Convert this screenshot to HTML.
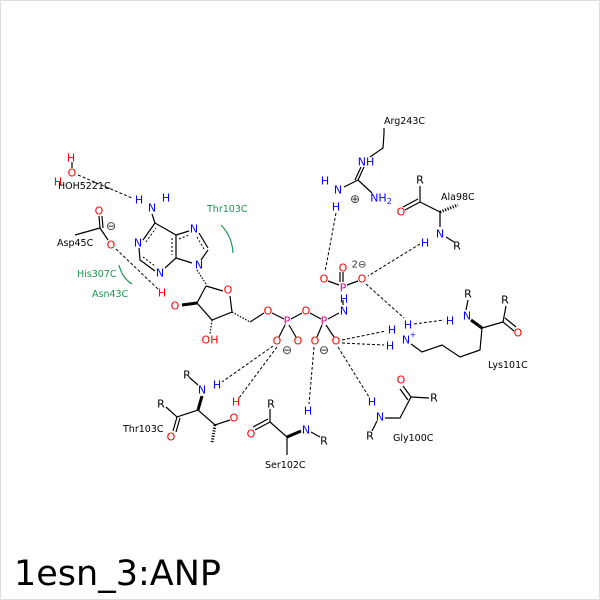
<!DOCTYPE html>
<html><head><meta charset="utf-8"><style>
body{margin:0;background:#fff}
svg{display:block}
text{font-family:"DejaVu Sans","Liberation Sans",sans-serif}
.a{font-size:11px;text-anchor:middle;dominant-baseline:central}
.l{font-size:9.5px}
.b{fill:#000}.r{fill:#f00}.n{fill:#00f}.p{fill:#e0008a}.g{fill:#1a9850}
</style></head><body>
<svg width="600" height="600" viewBox="0 0 600 600">
<rect x="0.5" y="0.5" width="599" height="599" fill="#fff" stroke="#ddd"/>
<g stroke="#000" stroke-width="1.2" fill="none">
<line x1="72" y1="162" x2="72" y2="168"/>
<line x1="152" y1="214" x2="155" y2="223"/>
<polyline points="143,240 155,223 176,235 176,258 165,268"/>
<polyline points="155,271 140,260 139,248"/>
<line x1="176" y1="235" x2="189" y2="231"/>
<line x1="199" y1="233" x2="208" y2="248"/>
<line x1="208" y1="250" x2="201" y2="260"/>
<line x1="192" y1="263" x2="176" y2="258"/>
</g>
<g stroke="#000" stroke-width="1" stroke-dasharray="2,2" fill="none">
<line x1="146" y1="242" x2="156" y2="228"/>
<line x1="172" y1="238" x2="172" y2="255"/>
<line x1="143" y1="257" x2="155" y2="266"/>
<line x1="179" y1="239" x2="189" y2="235"/>
<line x1="197" y1="237" x2="204" y2="249"/>
</g>
<g stroke="#000" stroke-width="1.2" fill="none">
<line x1="197" y1="270" x2="206" y2="284" stroke-dasharray="1.5,1.5"/>
<polyline points="206,286 223,291"/>
<polyline points="230,296 232,312 212,320 197,303 206,286"/>
<line x1="197" y1="303" x2="182" y2="305" stroke-width="3"/>
<line x1="212" y1="320" x2="210" y2="334" stroke-dasharray="1.5,1.5"/>
<line x1="232" y1="312" x2="250" y2="322" stroke-dasharray="1.5,1.5"/>
<line x1="250" y1="322" x2="264" y2="313"/>
<line x1="272" y1="313" x2="284" y2="319"/>
<line x1="291" y1="319" x2="302" y2="313"/>
<line x1="310" y1="313" x2="321" y2="319"/>
<line x1="328" y1="319" x2="339" y2="313"/>
<line x1="343" y1="305" x2="343" y2="300"/>
<line x1="343" y1="282" x2="343" y2="272"/><line x1="340" y1="282" x2="340" y2="272"/>
<line x1="339" y1="285" x2="328" y2="281"/><line x1="347" y1="285" x2="358" y2="281"/>
<line x1="285" y1="325" x2="279" y2="337"/><line x1="289" y1="325" x2="296" y2="337"/>
<line x1="322" y1="325" x2="317" y2="337"/><line x1="326" y1="325" x2="334" y2="337"/>
<line x1="75" y1="235" x2="100" y2="228"/>
<line x1="99" y1="216" x2="100" y2="228"/><line x1="102" y1="216" x2="103" y2="228"/>
<line x1="100" y1="228" x2="108" y2="240"/>
<polyline points="384,128 384,133 383,148 370,157"/>
<line x1="364" y1="167" x2="358" y2="180"/><line x1="361" y1="167" x2="355" y2="180"/>
<line x1="358" y1="180" x2="344" y2="187"/>
<line x1="358" y1="180" x2="372" y2="193"/>
<line x1="420" y1="186" x2="420" y2="202"/>
<line x1="420" y1="202" x2="405" y2="210"/><line x1="418" y1="199" x2="403" y2="207"/>
<line x1="420" y1="202" x2="440" y2="212"/>
<line x1="440" y1="212" x2="458" y2="205" stroke-dasharray="1.2,1.5" stroke-width="3"/>
<line x1="440" y1="212" x2="440" y2="227"/>
<line x1="446" y1="237" x2="454" y2="242"/>
<polyline points="411,344 422,352 442,345 460,357 480,350 482,328"/>
<line x1="482" y1="328" x2="471" y2="320" stroke-width="3"/>
<line x1="466" y1="310" x2="468" y2="300"/>
<line x1="482" y1="328" x2="503" y2="322"/>
<line x1="503" y1="322" x2="506" y2="306"/>
<line x1="503" y1="322" x2="514" y2="331"/><line x1="505" y1="318" x2="516" y2="327"/>
<line x1="190" y1="378" x2="198" y2="385"/>
<line x1="202" y1="396" x2="198" y2="410" stroke-width="3"/>
<polyline points="166,407 177,417 198,410 215,425 230,420"/>
<line x1="177" y1="417" x2="173" y2="431"/><line x1="180" y1="418" x2="176" y2="432"/>
<line x1="215" y1="425" x2="212" y2="443" stroke-dasharray="1.2,1.5" stroke-width="3"/>
<line x1="270" y1="409" x2="270" y2="422"/>
<line x1="270" y1="422" x2="255" y2="430"/><line x1="268" y1="419" x2="253" y2="427"/>
<polyline points="270,422 287,437 287,455"/>
<line x1="287" y1="437" x2="301" y2="431" stroke-width="3"/>
<line x1="311" y1="432" x2="320" y2="437"/>
<line x1="403" y1="386" x2="411" y2="397"/><line x1="400" y1="389" x2="408" y2="400"/>
<line x1="411" y1="397" x2="429" y2="398"/>
<polyline points="411,397 400,418 385,418"/>
<line x1="377" y1="421" x2="372" y2="431"/>
</g>
<g stroke="#000" stroke-width="1" stroke-dasharray="3,2" fill="none">
<line x1="78" y1="175" x2="132" y2="198"/>
<line x1="116" y1="249" x2="158" y2="289"/>
<line x1="336" y1="213" x2="325" y2="272"/>
<line x1="420" y1="244" x2="368" y2="276"/>
<line x1="366" y1="284" x2="404" y2="318"/>
<line x1="414" y1="324" x2="444" y2="320"/>
<line x1="342" y1="340" x2="386" y2="331"/>
<line x1="342" y1="343" x2="384" y2="345"/>
<line x1="273" y1="346" x2="222" y2="382"/>
<line x1="277" y1="347" x2="239" y2="398"/>
<line x1="314" y1="347" x2="309" y2="404"/>
<line x1="338" y1="347" x2="369" y2="397"/>
</g>
<g stroke="#1a9850" stroke-width="1.2" fill="none">
<path d="M119,265 Q122,278 132,284"/>
<path d="M221,225 Q232,236 233,253"/>
</g>
<g class="a">
<text x="71" y="158" class="r">H</text><text x="72" y="173" class="r">O</text><text x="58" y="182" class="r">H</text>
<text x="152" y="208" class="n">N</text><text x="139" y="200" class="n">H</text><text x="166" y="198" class="n">H</text>
<text x="138" y="243" class="n">N</text><text x="160" y="273" class="n">N</text><text x="194" y="229" class="n">N</text><text x="199" y="265" class="n">N</text>
<text x="228" y="290" class="r">O</text><text x="175" y="306" class="r">O</text><text x="162" y="293" class="r">H</text><text x="210" y="340" class="r">OH</text>
<text x="268" y="311" class="r">O</text><text x="306" y="311" class="r">O</text>
<text x="287" y="321" class="p">P</text><text x="324" y="321" class="p">P</text><text x="343" y="288" class="p">P</text>
<text x="344" y="311" class="n">N</text><text x="344" y="299" class="n">H</text>
<text x="324" y="279" class="r">O</text><text x="343" y="268" class="r">O</text><text x="362" y="279" class="r">O</text>
<text x="277" y="341" class="r">O</text><text x="298" y="341" class="r">O</text><text x="315" y="341" class="r">O</text><text x="336" y="341" class="r">O</text>
<text x="99" y="211" class="r">O</text><text x="111" y="245" class="r">O</text>
<text x="366" y="162" class="n">NH</text><text x="338" y="190" class="n">N</text><text x="325" y="181" class="n">H</text><text x="336" y="207" class="n">H</text>
<text x="381" y="198" class="n">NH<tspan font-size="8" dy="3">2</tspan></text>
<text x="420" y="180">R</text><text x="401" y="212" class="r">O</text><text x="440" y="234" class="n">N</text><text x="425" y="243" class="n">H</text><text x="457" y="246">R</text>
<text x="406" y="340" class="n">N</text><text x="413" y="335" class="n" font-size="8">+</text><text x="408" y="325" class="n">H</text><text x="392" y="330" class="n">H</text><text x="390" y="346" class="n">H</text>
<text x="467" y="316" class="n">N</text><text x="450" y="321" class="n">H</text><text x="468" y="294">R</text><text x="505" y="300">R</text><text x="518" y="333" class="r">O</text>
<text x="187" y="375">R</text><text x="202" y="390" class="n">N</text><text x="217" y="385" class="n">H</text><text x="161" y="404">R</text><text x="171" y="437" class="r">O</text><text x="234" y="418" class="r">O</text><text x="236" y="402" class="r">H</text>
<text x="271" y="404">R</text><text x="251" y="434" class="r">O</text><text x="306" y="430" class="n">N</text><text x="308" y="411" class="n">H</text><text x="324" y="441">R</text>
<text x="401" y="380" class="r">O</text><text x="434" y="398">R</text><text x="380" y="417" class="n">N</text><text x="372" y="402" class="n">H</text><text x="370" y="436">R</text>
</g>
<g class="a" font-size="10" fill="#333">
<text x="111" y="226" font-size="12">⊖</text><text x="355" y="199" font-size="12">⊕</text>
<text x="359" y="265" font-size="10">2⊖</text>
<text x="287" y="350" font-size="12">⊖</text><text x="324" y="350" font-size="12">⊖</text>
</g>
<g class="l">
<text x="58" y="189">HOH5221C</text>
<text x="57" y="246">Asp45C</text>
<text x="77" y="277" class="g">His307C</text>
<text x="92" y="297" class="g">Asn43C</text>
<text x="207" y="212" class="g">Thr103C</text>
<text x="384" y="124">Arg243C</text>
<text x="441" y="200">Ala98C</text>
<text x="488" y="368">Lys101C</text>
<text x="123" y="432">Thr103C</text>
<text x="265" y="468">Ser102C</text>
<text x="393" y="441">Gly100C</text>
</g>
<text x="14" y="585" font-size="35" font-family="DejaVu Sans,sans-serif">1esn_3:ANP</text>
</svg>
</body></html>
